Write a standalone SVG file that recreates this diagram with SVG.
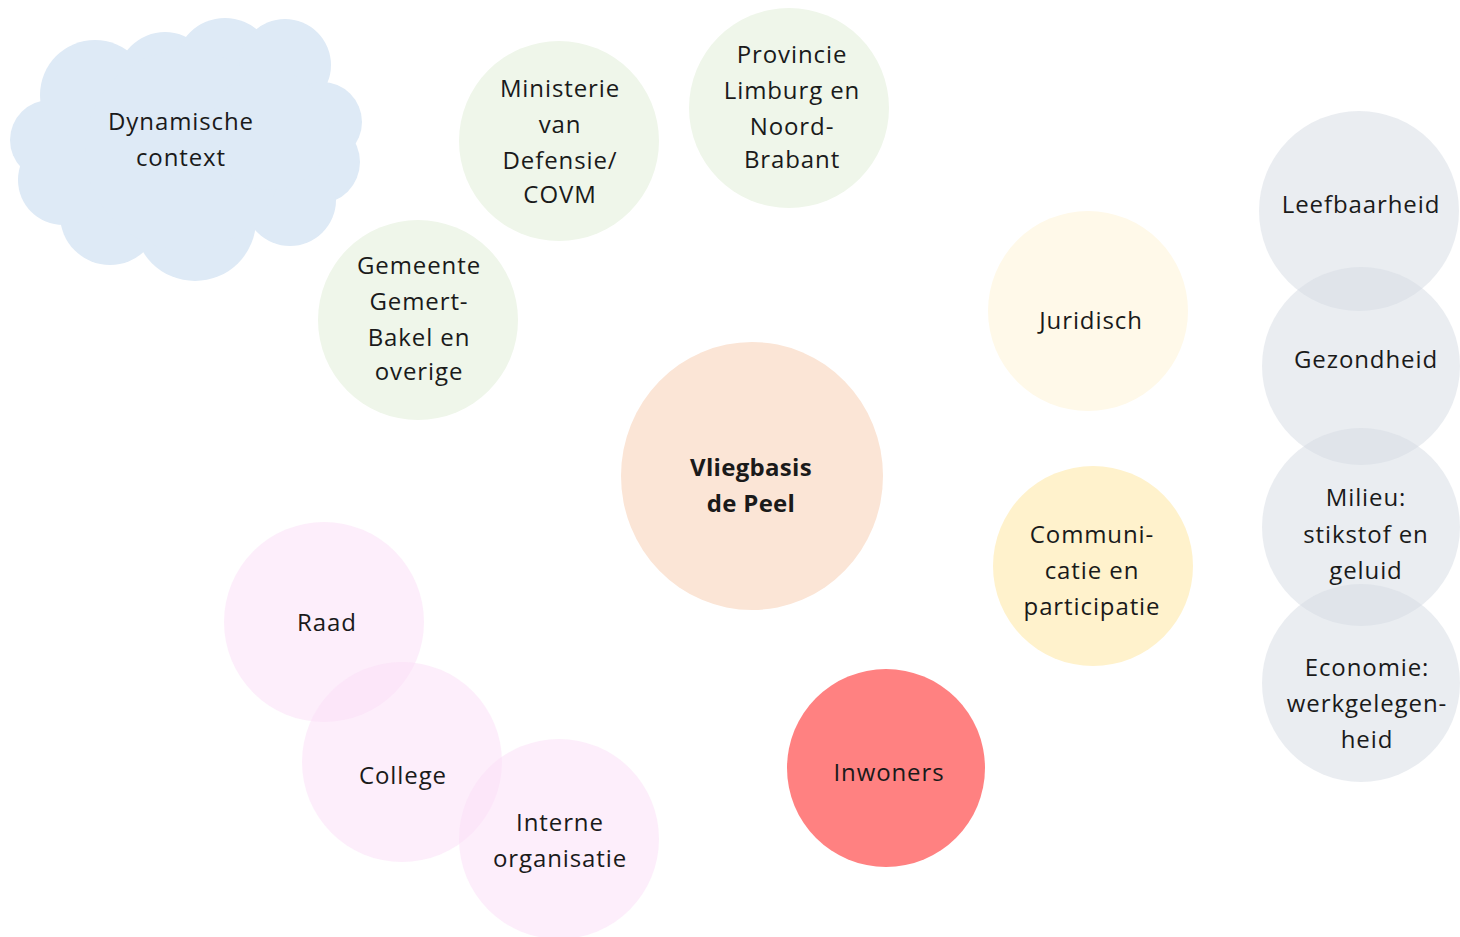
<svg xmlns="http://www.w3.org/2000/svg" width="1460" height="937" viewBox="0 0 1460 937">
<style>
text{font-family:"Open Sans","Noto Sans","Liberation Sans",sans-serif;font-size:24px;letter-spacing:0.9px;fill:#1a1a1a;text-anchor:middle}
.b{font-weight:bold;letter-spacing:0.3px}
.green{fill:#EFF6EA}
.pink{fill:#FBDDF8;fill-opacity:0.5}
.grey{fill:#D5DBE4;fill-opacity:0.5}
.cloud circle{fill:#DEEAF6}
</style>
<rect width="1460" height="937" fill="#ffffff"/>
<g id="connectors"></g>
<g id="cloud" class="cloud">
<circle cx="50" cy="140" r="40"/>
<circle cx="95" cy="95" r="55"/>
<circle cx="165" cy="80" r="48"/>
<circle cx="225" cy="68" r="50"/>
<circle cx="285" cy="65" r="46"/>
<circle cx="322" cy="122" r="40"/>
<circle cx="318" cy="162" r="42"/>
<circle cx="290" cy="200" r="46"/>
<circle cx="195" cy="220" r="61"/>
<circle cx="110" cy="215" r="50"/>
<circle cx="63" cy="180" r="45"/>
<circle cx="185" cy="150" r="100"/>
<circle cx="270" cy="130" r="60"/>
<text x="181" y="130">Dynamische</text>
<text x="181" y="166">context</text>
</g>
<g id="ministerie">
<circle class="green" cx="559" cy="141" r="100"/>
<text x="560" y="97">Ministerie</text>
<text x="560" y="133">van</text>
<text x="560" y="169">Defensie/</text>
<text x="560" y="203">COVM</text>
</g>
<g id="provincie">
<circle class="green" cx="789" cy="108" r="100"/>
<text x="792" y="63">Provincie</text>
<text x="792" y="99">Limburg en</text>
<text x="792" y="135">Noord-</text>
<text x="792" y="168">Brabant</text>
</g>
<g id="gemeente">
<circle class="green" cx="418" cy="320" r="100"/>
<text x="419" y="274">Gemeente</text>
<text x="419" y="310">Gemert-</text>
<text x="419" y="346">Bakel en</text>
<text x="419" y="380">overige</text>
</g>
<g id="vliegbasis">
<ellipse cx="752" cy="476" rx="131" ry="134" fill="#FBE5D6"/>
<text class="b" x="751" y="476">Vliegbasis</text>
<text class="b" x="751" y="512">de Peel</text>
</g>
<g id="juridisch">
<circle cx="1088" cy="311" r="100" fill="#FFF9E9"/>
<text x="1091" y="329">Juridisch</text>
</g>
<g id="communicatie">
<circle cx="1093" cy="566" r="100" fill="#FFF2CC"/>
<text x="1092" y="543">Communi-</text>
<text x="1092" y="579">catie en</text>
<text x="1092" y="615">participatie</text>
</g>
<g id="inwoners">
<circle cx="886" cy="768" r="99" fill="#FF8181"/>
<text x="889" y="781">Inwoners</text>
</g>
<g id="raad">
<circle class="pink" cx="324" cy="622" r="100"/>
<text x="327" y="631">Raad</text>
</g>
<g id="college">
<circle class="pink" cx="402" cy="762" r="100"/>
<text x="403" y="784">College</text>
</g>
<g id="interne">
<circle class="pink" cx="559" cy="839" r="100"/>
<text x="560" y="831">Interne</text>
<text x="560" y="867">organisatie</text>
</g>
<g id="leefbaarheid">
<circle class="grey" cx="1359" cy="211" r="100"/>
<text x="1361" y="213">Leefbaarheid</text>
</g>
<g id="gezondheid">
<circle class="grey" cx="1361" cy="366" r="99"/>
<text x="1366" y="368">Gezondheid</text>
</g>
<g id="milieu">
<circle class="grey" cx="1361" cy="527" r="99"/>
<text x="1366" y="506">Milieu:</text>
<text x="1366" y="543">stikstof en</text>
<text x="1366" y="579">geluid</text>
</g>
<g id="economie">
<circle class="grey" cx="1361" cy="683" r="99"/>
<text x="1367" y="676">Economie:</text>
<text x="1367" y="712">werkgelegen-</text>
<text x="1367" y="748">heid</text>
</g>
</svg>
